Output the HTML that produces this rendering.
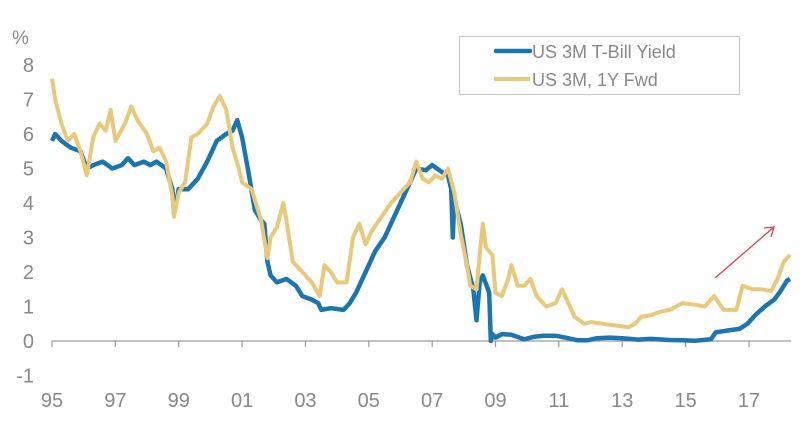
<!DOCTYPE html>
<html><head><meta charset="utf-8"><style>
html,body{margin:0;padding:0;background:#fff;}
svg{display:block;font-family:"Liberation Sans",Arial,sans-serif;}
</style></head><body>
<svg id="chart" width="809" height="432" viewBox="0 0 809 432">
<text x="12" y="44" font-size="19" fill="#888">%</text>
<g id="yticks"></g>
<g id="xaxis"></g>
<g id="series"></g>
<line x1="715" y1="278" x2="774" y2="227" stroke="#e0404a" stroke-width="1.3"/>
<polyline points="764,228 774,227 771,237" fill="none" stroke="#e0404a" stroke-width="1.3"/>
<g>
<rect x="459.5" y="36.5" width="280" height="58" fill="#fff" stroke="#c8c8c8"/>
<line x1="496" y1="51" x2="530" y2="51" stroke="#1a75b0" stroke-width="4.5" stroke-linecap="round"/>
<text x="532" y="58" font-size="18" fill="#888">US 3M T-Bill Yield</text>
<line x1="494" y1="79" x2="530" y2="79" stroke="#e8c97a" stroke-width="4"/>
<text x="532" y="86" font-size="18" fill="#888">US 3M, 1Y Fwd</text>
</g>
</svg>
<script>
const yTickValues=[8,7,6,5,4,3,2,1,0,-1];
const xTickYears=[1995,1997,1999,2001,2003,2005,2007,2009,2011,2013,2015,2017];
const xTickLabels=["95","97","99","01","03","05","07","09","11","13","15","17"];
const tbillDates=[1995.0,1995.1,1995.3,1995.6,1995.9,1996.1,1996.3,1996.6,1996.9,1997.2,1997.4,1997.6,1997.9,1998.1,1998.3,1998.6,1998.8,1998.85,1999.0,1999.3,1999.6,1999.9,2000.2,2000.5,2000.7,2000.85,2001.0,2001.2,2001.4,2001.6,2001.7,2001.8,2001.9,2002.1,2002.4,2002.7,2002.9,2003.2,2003.4,2003.5,2003.8,2004.2,2004.4,2004.6,2004.9,2005.2,2005.5,2005.8,2006.0,2006.3,2006.5,2006.8,2007.0,2007.3,2007.5,2007.6,2007.65,2007.7,2007.9,2008.1,2008.3,2008.4,2008.5,2008.6,2008.8,2008.85,2008.9,2009.0,2009.2,2009.5,2009.9,2010.2,2010.5,2010.9,2011.2,2011.6,2011.9,2012.2,2012.6,2013.0,2013.5,2013.9,2014.5,2014.9,2015.3,2015.8,2015.95,2016.3,2016.7,2016.95,2017.2,2017.5,2017.8,2018.0,2018.2,2018.3];
const tbillValues=[5.8,6.0,5.8,5.6,5.5,5.0,5.1,5.2,5.0,5.1,5.3,5.1,5.2,5.1,5.2,5.0,4.4,3.7,4.4,4.4,4.7,5.2,5.8,6.0,6.1,6.4,5.9,4.9,3.8,3.5,3.4,2.3,1.9,1.7,1.8,1.6,1.3,1.2,1.1,0.9,0.95,0.9,1.1,1.4,2.0,2.6,3.0,3.6,4.0,4.6,5.0,4.95,5.1,4.9,4.8,4.4,3.0,4.1,3.4,2.2,1.5,0.6,1.7,1.9,1.4,0.0,0.2,0.1,0.2,0.18,0.05,0.12,0.15,0.15,0.1,0.02,0.02,0.08,0.1,0.08,0.04,0.06,0.03,0.02,0.01,0.05,0.25,0.3,0.35,0.5,0.75,1.0,1.2,1.45,1.75,1.8];
const fwdDates=[1995.0,1995.1,1995.3,1995.5,1995.7,1995.9,1996.1,1996.3,1996.5,1996.7,1996.85,1997.0,1997.3,1997.5,1997.7,1998.0,1998.2,1998.4,1998.6,1998.8,1998.85,1999.0,1999.2,1999.4,1999.6,1999.9,2000.1,2000.3,2000.5,2000.7,2000.9,2001.0,2001.3,2001.6,2001.8,2001.9,2002.1,2002.3,2002.4,2002.6,2002.8,2003.0,2003.2,2003.45,2003.6,2003.8,2004.0,2004.3,2004.5,2004.7,2004.9,2005.1,2005.4,2005.7,2006.0,2006.3,2006.5,2006.7,2006.9,2007.1,2007.3,2007.5,2007.7,2007.9,2008.1,2008.2,2008.4,2008.5,2008.6,2008.7,2008.9,2009.0,2009.2,2009.4,2009.5,2009.7,2009.9,2010.1,2010.3,2010.6,2010.9,2011.1,2011.3,2011.5,2011.8,2012.0,2012.4,2012.8,2013.2,2013.4,2013.6,2013.9,2014.2,2014.5,2014.9,2015.3,2015.6,2015.9,2016.2,2016.6,2016.8,2017.1,2017.4,2017.7,2017.9,2018.1,2018.25,2018.3];
const fwdValues=[7.6,7.0,6.3,5.8,6.0,5.5,4.8,5.9,6.3,6.1,6.7,5.8,6.3,6.8,6.4,6.0,5.5,5.6,5.2,4.2,3.6,4.3,4.6,5.9,6.0,6.3,6.8,7.1,6.7,5.6,5.0,4.6,4.4,3.5,2.4,3.0,3.3,4.0,3.5,2.3,2.1,1.9,1.7,1.3,2.2,2.0,1.7,1.7,3.0,3.4,2.8,3.2,3.6,4.0,4.3,4.6,5.2,4.7,4.6,4.8,4.7,5.0,4.3,3.1,2.2,1.6,1.5,2.5,3.4,2.7,2.5,1.4,1.3,1.8,2.2,1.6,1.6,1.8,1.3,1.0,1.1,1.5,1.1,0.7,0.5,0.55,0.5,0.45,0.4,0.5,0.7,0.75,0.85,0.9,1.1,1.05,1.0,1.3,0.9,0.9,1.6,1.5,1.5,1.45,1.8,2.3,2.45,2.5];

const NS='http://www.w3.org/2000/svg';
const x=yr=>52+(yr-1995)*31.68;
const y=v=>341-v*34.5;
function mk(tag,attrs,parent){const e=document.createElementNS(NS,tag);for(const k in attrs)e.setAttribute(k,attrs[k]);parent.appendChild(e);return e;}
const yg=document.getElementById('yticks');
yTickValues.forEach(v=>{
  const t=mk('text',{x:34,y:y(v)+7,'text-anchor':'end','font-size':20,fill:'#888'},yg);
  
  
  t.textContent=v;
});
const xg=document.getElementById('xaxis');
const axl=mk('line',{x1:52,y1:y(0),x2:791,y2:y(0),stroke:'#9a9a9a','stroke-width':1.2},xg);


xTickYears.forEach((yr,i)=>{
  const tk=mk('line',{x1:x(yr),y1:y(0),x2:x(yr),y2:y(0)+6,stroke:'#9a9a9a','stroke-width':1.2},xg);
  
  
  const t=mk('text',{x:x(yr),y:407,'text-anchor':'middle','font-size':20,fill:'#888'},xg);
  
  
  t.textContent=xTickLabels[i];
});
const sg=document.getElementById('series');
const pts=(d,v)=>d.map((yr,i)=>x(yr).toFixed(1)+','+y(v[i]).toFixed(1)).join(' ');
const l1=mk('polyline',{points:pts(tbillDates,tbillValues),fill:'none',stroke:'#1a75b0','stroke-width':4.5,'stroke-linejoin':'round'},sg);


const l2=mk('polyline',{points:pts(fwdDates,fwdValues),fill:'none',stroke:'#e8c97a','stroke-width':4,'stroke-linejoin':'round'},sg);


</script>
</body></html>
